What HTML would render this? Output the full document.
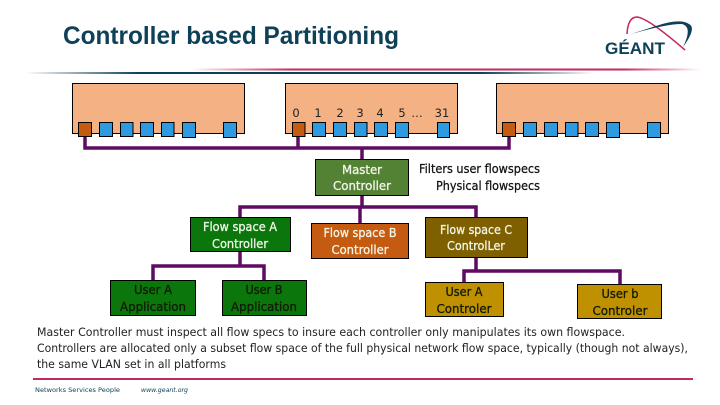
<!DOCTYPE html>
<html><head><meta charset="utf-8"><style>
html,body{margin:0;padding:0;background:#fff;width:720px;height:405px;overflow:hidden}
svg{display:block}
text{font-family:"DejaVu Sans","Liberation Sans",sans-serif}
.c{text-anchor:middle;font-size:12px}
.w{fill:#f2f6e8;stroke:#f2f6e8;stroke-width:.3px}
.k{fill:#111a05;stroke:#111a05;stroke-width:.3px}
.n{font-size:11.5px;fill:#222;text-anchor:middle}
.b{font-size:11.5px;fill:#222}
</style></head><body>
<svg width="720" height="405" viewBox="0 0 720 405" xmlns="http://www.w3.org/2000/svg">
<defs>
<linearGradient id="t" x1="0" x2="1" y1="0" y2="0"><stop offset="0" stop-color="#0e4058" stop-opacity="0"/><stop offset=".2" stop-color="#0e4058"/><stop offset=".8" stop-color="#0e4058"/><stop offset="1" stop-color="#0e4058" stop-opacity="0"/></linearGradient>
<linearGradient id="r" x1="0" x2="1" y1="0" y2="0"><stop offset="0" stop-color="#c4285c" stop-opacity="0"/><stop offset=".2" stop-color="#c4285c"/><stop offset=".85" stop-color="#c4285c"/><stop offset="1" stop-color="#c4285c" stop-opacity="0"/></linearGradient>
</defs>
<text x="63" y="44" font-size="25" font-weight="700" fill="#0e4058" textLength="336" lengthAdjust="spacingAndGlyphs" style="font-family:'Liberation Sans',sans-serif">Controller based Partitioning</text>
<rect x="190" y="68.5" width="510" height="2" fill="url(#r)"/>
<rect x="25" y="72" width="570" height="2" fill="url(#t)"/>
<!-- logo -->
<path d="M627 34 Q628 17 637 17 Q648 18 685 50" fill="none" stroke="#c4285c" stroke-width="1.5"/>
<path d="M628 35 Q665 24 682 24 Q693 27 683 47 Q697 28 689 24 Q680 18 656 26 Z" fill="#0e4058"/>
<text x="605" y="54" font-size="17" font-weight="700" fill="#0e4058" textLength="60" lengthAdjust="spacingAndGlyphs" style="font-family:'Liberation Sans',sans-serif">GÉANT</text>
<!-- switches -->
<g fill="#f4b183" stroke="#000" stroke-width="1">
<rect x="72.5" y="83.5" width="172" height="50"/>
<rect x="285.5" y="83.5" width="172" height="50"/>
<rect x="496.5" y="83.5" width="172" height="50"/>
</g>
<!-- connectors -->
<g fill="none" stroke="#5f0a63" stroke-width="3.5">
<path d="M85 136V148H509V136M298 136V148M362 148V159"/>
<path d="M362 195V208M240 218V207H476V218M360 207V224"/>
<path d="M240 251V266M153 281V266H264V281"/>
<path d="M476 257V271H620V285M464 283V271H476"/>
</g>
<!-- ports -->
<g stroke="#000" stroke-width="1" fill="#c55a11">
<rect x="78.5" y="122.5" width="13" height="14"/>
<rect x="292.5" y="122.5" width="12.5" height="14"/>
<rect x="502.5" y="122.5" width="13" height="14"/>
</g>
<g stroke="#000" stroke-width="1" fill="#2e9ae0">
<rect x="99.5" y="122.5" width="13" height="14"/><rect x="120.5" y="122.5" width="12.5" height="14"/><rect x="140.5" y="122.5" width="13" height="14"/><rect x="161.5" y="122.5" width="12.5" height="14"/><rect x="182.5" y="122.5" width="13" height="15"/><rect x="223.5" y="122.5" width="13" height="15"/>
<rect x="312.5" y="122.5" width="13" height="14"/><rect x="333.5" y="122.5" width="13" height="14"/><rect x="354.5" y="122.5" width="12.5" height="14"/><rect x="374.5" y="122.5" width="13" height="14"/><rect x="395.5" y="122.5" width="13" height="15"/><rect x="437.5" y="122.5" width="12" height="15"/>
<rect x="523.5" y="122.5" width="13" height="14"/><rect x="544.5" y="122.5" width="13" height="14"/><rect x="565.5" y="122.5" width="12.5" height="14"/><rect x="585.5" y="122.5" width="13" height="14"/><rect x="606.5" y="122.5" width="13" height="15"/><rect x="647.5" y="122.5" width="13" height="15"/>
</g>
<g class="n">
<text class="n" x="296" y="117">0</text><text class="n" x="318" y="117">1</text><text class="n" x="340" y="117">2</text><text class="n" x="360" y="117">3</text><text class="n" x="380" y="117">4</text><text class="n" x="402" y="117">5</text><text class="n" x="417" y="117">…</text><text class="n" x="442" y="117">31</text>
</g>
<!-- nodes -->
<g stroke="#000" stroke-width="1">
<rect x="315.5" y="159.5" width="93" height="36" fill="#548235"/>
<rect x="190.5" y="217.5" width="100" height="34" fill="#0b760b"/>
<rect x="311.5" y="223.5" width="97" height="35" fill="#c55a11"/>
<rect x="425.5" y="217.5" width="102" height="40" fill="#7f6000"/>
<rect x="110.5" y="280.5" width="85" height="35" fill="#0b760b"/>
<rect x="222.5" y="280.5" width="84" height="35" fill="#0b760b"/>
<rect x="425.5" y="282.5" width="78" height="34" fill="#bf9000"/>
<rect x="577.5" y="284.5" width="84" height="34" fill="#bf9000"/>
</g>
<g class="c">
<text class="c w" x="362" y="174" textLength="40" lengthAdjust="spacingAndGlyphs">Master</text>
<text class="c w" x="362" y="190" textLength="58" lengthAdjust="spacingAndGlyphs">Controller</text>
<text class="c w" x="240" y="231" textLength="74" lengthAdjust="spacingAndGlyphs">Flow space A</text>
<text class="c w" x="240" y="248" textLength="56" lengthAdjust="spacingAndGlyphs">Controller</text>
<text class="c w" x="360" y="237" textLength="73" lengthAdjust="spacingAndGlyphs">Flow space B</text>
<text class="c w" x="360" y="254" textLength="57" lengthAdjust="spacingAndGlyphs">Controller</text>
<text class="c w" x="476" y="234" textLength="72" lengthAdjust="spacingAndGlyphs">Flow space C</text>
<text class="c w" x="476" y="250" textLength="58" lengthAdjust="spacingAndGlyphs">ControlLer</text>
<text class="c k" x="153" y="294" textLength="38" lengthAdjust="spacingAndGlyphs">User A</text>
<text class="c k" x="153" y="311" textLength="66" lengthAdjust="spacingAndGlyphs">Application</text>
<text class="c k" x="264" y="294" textLength="37" lengthAdjust="spacingAndGlyphs">User B</text>
<text class="c k" x="264" y="311" textLength="66" lengthAdjust="spacingAndGlyphs">Application</text>
<text class="c k" x="464" y="296" textLength="37" lengthAdjust="spacingAndGlyphs">User A</text>
<text class="c k" x="464" y="313" textLength="55" lengthAdjust="spacingAndGlyphs">Controler</text>
<text class="c k" x="620" y="298" textLength="37" lengthAdjust="spacingAndGlyphs">User b</text>
<text class="c k" x="620" y="315" textLength="55" lengthAdjust="spacingAndGlyphs">Controler</text>
</g>
<text x="419" y="173" font-size="12" fill="#111" stroke="#111" stroke-width=".25" textLength="121" lengthAdjust="spacingAndGlyphs">Filters user flowspecs</text>
<text x="436" y="190" font-size="12" fill="#111" stroke="#111" stroke-width=".25" textLength="104" lengthAdjust="spacingAndGlyphs">Physical flowspecs</text>
<!-- body text -->
<text class="b" x="37" y="336" textLength="588" lengthAdjust="spacingAndGlyphs">Master Controller must inspect  all flow specs to insure each controller only manipulates its own flowspace.</text>
<text class="b" x="37" y="352" textLength="651" lengthAdjust="spacingAndGlyphs">Controllers are allocated only a subset flow space of the full physical network flow space, typically (though not always),</text>
<text class="b" x="37" y="368" textLength="189" lengthAdjust="spacingAndGlyphs">the same VLAN set in all platforms</text>
<rect x="33" y="378" width="660" height="2" fill="#c4285c"/>
<text x="35" y="392" font-size="6.5" fill="#0e4058" textLength="85" lengthAdjust="spacingAndGlyphs">Networks  Services  People</text>
<text x="141" y="392" font-size="6.5" font-style="italic" fill="#0e4058" textLength="47" lengthAdjust="spacingAndGlyphs">www.geant.org</text>
</svg>
</body></html>
